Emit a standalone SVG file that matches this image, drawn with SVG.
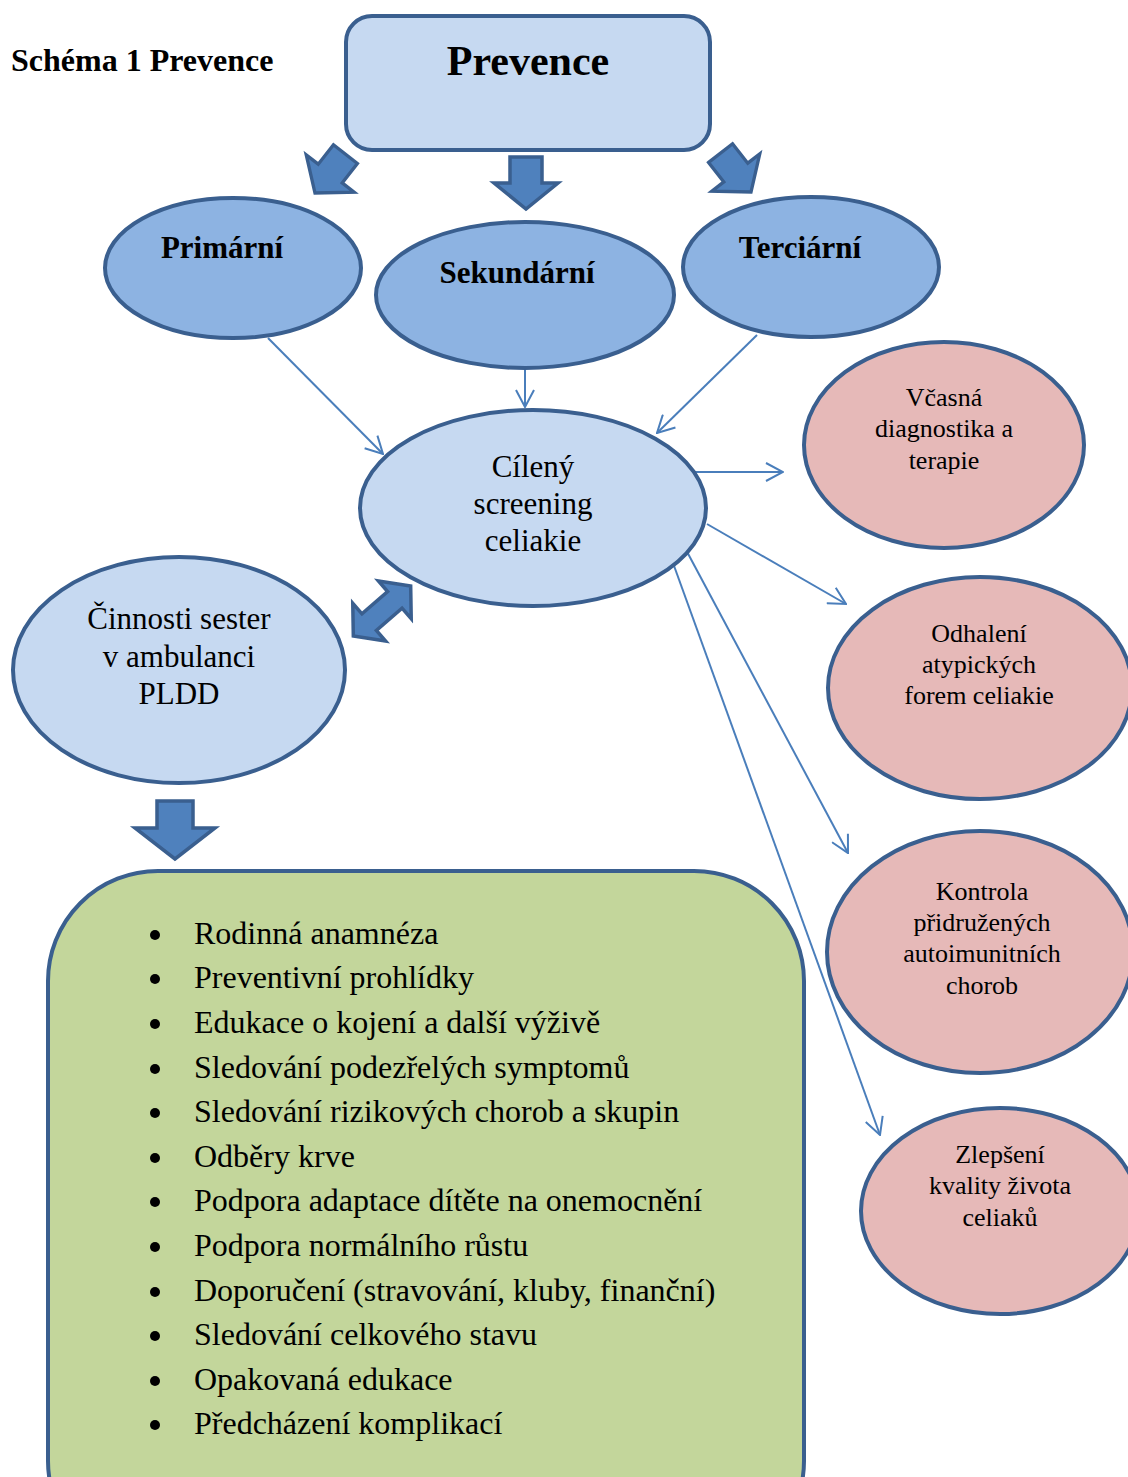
<svg xmlns="http://www.w3.org/2000/svg" width="1128" height="1477" viewBox="0 0 1128 1477">
<style>
.t{font-family:"Liberation Serif","Times New Roman",serif;fill:#000;text-anchor:middle}
.b{font-weight:bold}
.node{stroke:#3A5F8F;stroke-width:4}
.lb{fill:#C6D9F1}
.mb{fill:#8DB3E2}
.pk{fill:#E6B9B8}
.gr{fill:#C3D69B}
.blk{fill:#4F81BD;stroke:#3A5F8F;stroke-width:3.5;stroke-linejoin:miter}
.con{stroke:#4A7EBB;stroke-width:2;fill:none}
.li{font-family:"Liberation Serif","Times New Roman",serif;font-size:32px;fill:#000}
</style>
<defs>
<marker id="ah" viewBox="0 0 20 20" refX="19" refY="10" markerWidth="20" markerHeight="20" markerUnits="userSpaceOnUse" orient="auto">
<path d="M2,1 L19,10 L2,19" fill="none" stroke="#4A7EBB" stroke-width="2"/>
</marker>
<path id="darr" d="M-16,-52 L16,-52 L16,-26 L32,-26 L0,0 L-32,-26 L-16,-26 Z"/>
</defs>
<rect width="1128" height="1477" fill="#fff"/>
<text class="t b" x="11" y="71" style="text-anchor:start;font-size:32px">Schéma 1 Prevence</text>

<g id="connectors">
<line class="con" x1="268" y1="338" x2="383" y2="454" marker-end="url(#ah)"/>
<line class="con" x1="525" y1="370" x2="525" y2="407" marker-end="url(#ah)"/>
<line class="con" x1="757" y1="335" x2="657" y2="433" marker-end="url(#ah)"/>
<line class="con" x1="688" y1="472" x2="783" y2="472" marker-end="url(#ah)"/>
<line class="con" x1="707" y1="524" x2="846" y2="604" marker-end="url(#ah)"/>
<line class="con" x1="685" y1="548" x2="848" y2="853" marker-end="url(#ah)"/>
<line class="con" x1="673" y1="563" x2="880" y2="1135" marker-end="url(#ah)"/>
<use href="#darr" class="blk" transform="translate(315,193) rotate(38) scale(0.95)"/>
<use href="#darr" class="blk" transform="translate(526,209)"/>
<use href="#darr" class="blk" transform="translate(751,192) rotate(-38) scale(0.95)"/>
<path class="blk" d="M-18,-58 L18,-58 L18,-31 L40,-31 L0,0 L-40,-31 L-18,-31 Z" transform="translate(175,859)"/>
<path class="blk" d="M-38,0 L-17,-25 L-17,-11 L17,-11 L17,-25 L38,0 L17,25 L17,11 L-17,11 L-17,25 Z" transform="translate(382,611) rotate(-41)"/>
</g>

<g id="prevence">
<rect class="node lb" x="346" y="16" width="364" height="134" rx="26"/>
<text class="t b" x="528" y="75" style="font-size:42px">Prevence</text>
</g>
<g id="primarni">
<ellipse class="node mb" cx="233" cy="268" rx="128" ry="70"/>
<text class="t b" x="222" y="258" style="font-size:31px">Primární</text>
</g>
<g id="sekundarni">
<ellipse class="node mb" cx="525" cy="295" rx="149" ry="73"/>
<text class="t b" x="517" y="283" style="font-size:31px">Sekundární</text>
</g>
<g id="terciarni">
<ellipse class="node mb" cx="811" cy="267" rx="128" ry="70"/>
<text class="t b" x="800" y="258" style="font-size:31px">Terciární</text>
</g>
<g id="screening">
<ellipse class="node lb" cx="533" cy="508" rx="173" ry="98"/>
<text class="t" style="font-size:31px"><tspan x="533" y="477">Cílený</tspan><tspan x="533" y="514">screening</tspan><tspan x="533" y="551">celiakie</tspan></text>
</g>
<g id="cinnosti">
<ellipse class="node lb" cx="179" cy="670" rx="166" ry="113"/>
<text class="t" style="font-size:31px"><tspan x="179" y="629">Činnosti sester</tspan><tspan x="179" y="667">v ambulanci</tspan><tspan x="179" y="704">PLDD</tspan></text>
</g>
<g id="vcasna">
<ellipse class="node pk" cx="944" cy="445" rx="140" ry="103"/>
<text class="t" style="font-size:26px"><tspan x="944" y="406">Včasná</tspan><tspan x="944" y="437">diagnostika a</tspan><tspan x="944" y="469">terapie</tspan></text>
</g>
<g id="odhaleni">
<ellipse class="node pk" cx="980" cy="688" rx="152" ry="111"/>
<text class="t" style="font-size:26px"><tspan x="979" y="642">Odhalení</tspan><tspan x="979" y="673">atypických</tspan><tspan x="979" y="704">forem celiakie</tspan></text>
</g>
<g id="kontrola">
<ellipse class="node pk" cx="980" cy="952" rx="153" ry="121"/>
<text class="t" style="font-size:26px"><tspan x="982" y="900">Kontrola</tspan><tspan x="982" y="931">přidružených</tspan><tspan x="982" y="962">autoimunitních</tspan><tspan x="982" y="994">chorob</tspan></text>
</g>
<g id="zlepseni">
<ellipse class="node pk" cx="1000" cy="1211" rx="139" ry="103"/>
<text class="t" style="font-size:26px"><tspan x="1000" y="1163">Zlepšení</tspan><tspan x="1000" y="1194">kvality života</tspan><tspan x="1000" y="1226">celiaků</tspan></text>
</g>
<g id="cinnosti-list">
<rect class="node gr" x="48" y="871" width="756" height="700" rx="110"/>
<g fill="#000">
<circle cx="155" cy="935" r="5"/><circle cx="155" cy="979" r="5"/><circle cx="155" cy="1024" r="5"/><circle cx="155" cy="1069" r="5"/>
<circle cx="155" cy="1113" r="5"/><circle cx="155" cy="1158" r="5"/><circle cx="155" cy="1202" r="5"/><circle cx="155" cy="1247" r="5"/>
<circle cx="155" cy="1292" r="5"/><circle cx="155" cy="1336" r="5"/><circle cx="155" cy="1381" r="5"/><circle cx="155" cy="1425" r="5"/>
</g>
<text class="li" x="194" y="944">Rodinná anamnéza</text>
<text class="li" x="194" y="988">Preventivní prohlídky</text>
<text class="li" x="194" y="1033">Edukace o kojení a další výživě</text>
<text class="li" x="194" y="1078">Sledování podezřelých symptomů</text>
<text class="li" x="194" y="1122">Sledování rizikových chorob a skupin</text>
<text class="li" x="194" y="1167">Odběry krve</text>
<text class="li" x="194" y="1211">Podpora adaptace dítěte na onemocnění</text>
<text class="li" x="194" y="1256">Podpora normálního růstu</text>
<text class="li" x="194" y="1301">Doporučení (stravování, kluby, finanční)</text>
<text class="li" x="194" y="1345">Sledování celkového stavu</text>
<text class="li" x="194" y="1390">Opakovaná edukace</text>
<text class="li" x="194" y="1434">Předcházení komplikací</text>
</g>
</svg>
